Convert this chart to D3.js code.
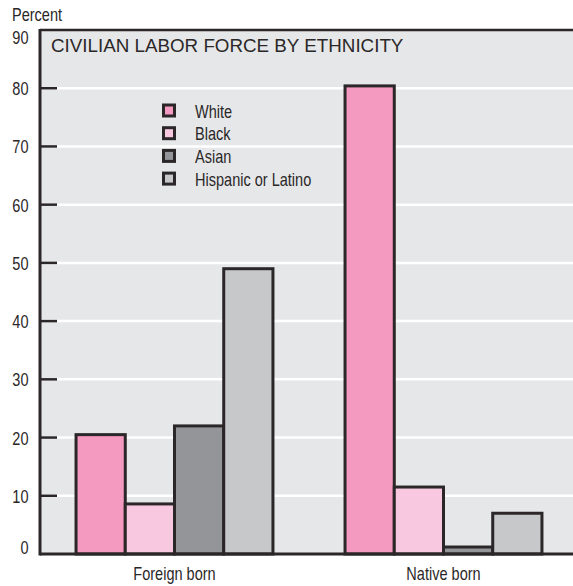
<!DOCTYPE html>
<html><head><meta charset="utf-8">
<script src="https://cdn.jsdelivr.net/npm/d3@7"></script>
<style>body{margin:0;background:#fff}svg{display:block}</style>
</head><body>
<svg id="c" width="573" height="586"></svg>
<script>
const categories = ["Foreign born", "Native born"];
const seriesNames = ["White", "Black", "Asian", "Hispanic or Latino"];
const white = [20.5, 80.4];
const black = [8.6, 11.5];
const asian = [22.0, 1.2];
const hispanic = [49.0, 7.0];
const yTicks = [0, 10, 20, 30, 40, 50, 60, 70, 80, 90];
const colors = ["#f49ac1", "#f7c8df", "#939598", "#c7c8ca"];
const title = "CIVILIAN LABOR FORCE BY ETHNICITY";
const yLabel = "Percent";

const series = [white, black, asian, hispanic];
const svg = d3.select("#c");
const L = 40, T = 30, B = 554, R = 578;
const font = "'Liberation Sans', Arial, sans-serif";
const ink = "#2b2728";
const FS = 17.5, SX = 0.83;

// condensed text helper
function ctext(sel, x, y, txt, anchor) {
  return sel.append("text")
    .attr("transform", `translate(${x},${y}) scale(${SX},1)`)
    .attr("text-anchor", anchor || "start")
    .attr("font-family", font).attr("font-size", FS).attr("fill", ink)
    .text(txt);
}

const y = d3.scaleLinear().domain([0, 90]).range([B, T]);
const x0 = d3.scaleBand().domain(categories).range([L, R]).paddingInner(0.268).paddingOuter(0.134);
const x1 = d3.scaleBand().domain(seriesNames).range([0, x0.bandwidth()]);
const color = d3.scaleOrdinal().domain(seriesNames).range(colors);

// background
svg.append("rect").attr("x", L).attr("y", T).attr("width", 573 - L).attr("height", B - T).attr("fill", "#e6e7e8");

const inner = yTicks.filter(d => d > 0 && d < 90);
// gridlines
svg.append("g").selectAll("line").data(inner).join("line")
  .attr("x1", L).attr("x2", 573).attr("y1", d => y(d)).attr("y2", d => y(d))
  .attr("stroke", "#fff").attr("stroke-width", 2.5);

// tick marks
svg.append("g").selectAll("line").data(inner).join("line")
  .attr("x1", L).attr("x2", L + 17).attr("y1", d => y(d)).attr("y2", d => y(d))
  .attr("stroke", ink).attr("stroke-width", 2.5);

// y tick labels
const yl = svg.append("g");
yTicks.forEach(d => {
  const by = Math.max(T + 14, Math.min(B, y(d) + 7));
  ctext(yl, 28.5, by, d, "end");
});

ctext(svg, 12, 21, yLabel);

// bars
const g = svg.append("g");
categories.forEach((c, ci) => {
  g.append("g").attr("transform", `translate(${x0(c)},0)`)
    .selectAll("rect").data(seriesNames.map((s, si) => ({s, v: series[si][ci]}))).join("rect")
    .attr("x", d => x1(d.s)).attr("width", x1.bandwidth())
    .attr("y", d => y(d.v)).attr("height", d => B - y(d.v))
    .attr("fill", d => color(d.s)).attr("stroke", ink).attr("stroke-width", 3);
});

// axes lines
svg.append("line").attr("x1", L).attr("x2", 573).attr("y1", T).attr("y2", T).attr("stroke", ink).attr("stroke-width", 2.5);
svg.append("line").attr("x1", L).attr("x2", 573).attr("y1", B).attr("y2", B).attr("stroke", ink).attr("stroke-width", 3);
svg.append("line").attr("x1", L).attr("x2", L).attr("y1", T - 1).attr("y2", B + 1.5).attr("stroke", ink).attr("stroke-width", 3);

// x labels
const xl = svg.append("g");
categories.forEach(c => ctext(xl, x0(c) + x0.bandwidth() / 2, 580, c, "middle"));

// title
svg.append("text").attr("x", 51).attr("y", 52).attr("font-family", font)
  .attr("font-size", 18.8).attr("fill", ink).text(title);

// legend
const lg = svg.append("g");
seriesNames.forEach((s, i) => {
  const base = 117.5 + i * 22.7;
  lg.append("rect").attr("x", 163.5).attr("y", base - 12.5).attr("width", 11).attr("height", 11)
    .attr("fill", color(s)).attr("stroke", ink).attr("stroke-width", 3);
  ctext(lg, 195, base, s);
});
</script>
</body></html>
